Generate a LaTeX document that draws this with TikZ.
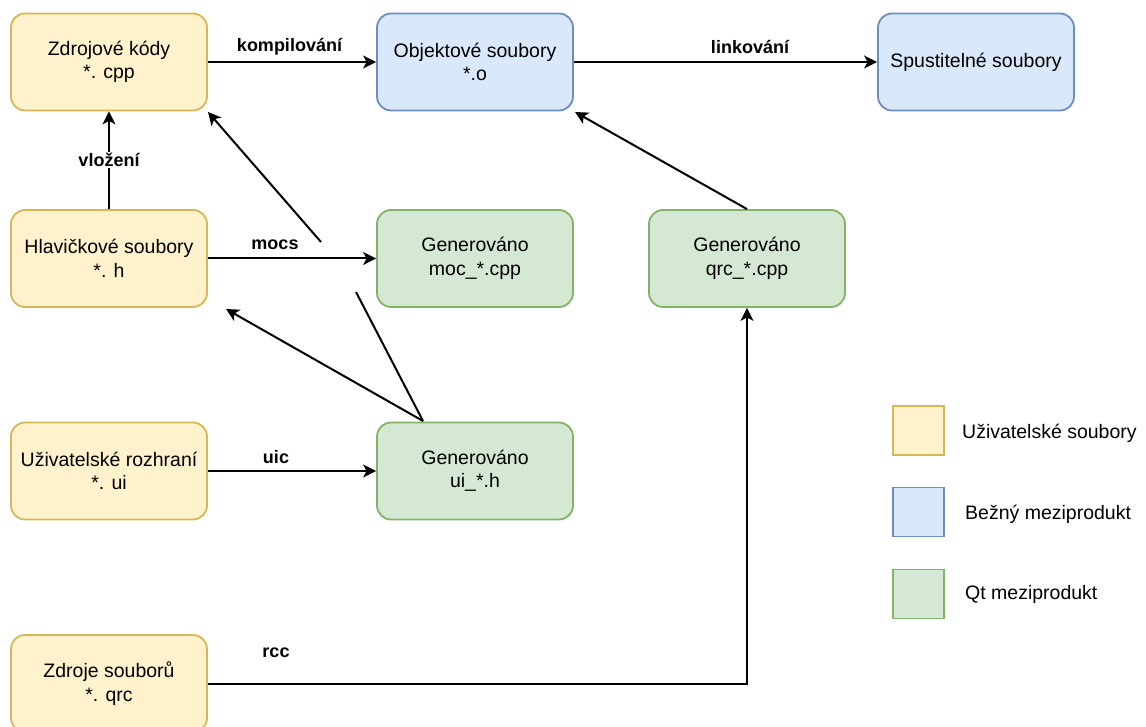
\documentclass[tikz,border=0pt]{standalone}
\usepackage{fontspec}
\setmainfont{Liberation Sans}
\usetikzlibrary{arrows.meta,calc}
\definecolor{usrfill}{HTML}{FFF2CC}
\definecolor{usrline}{HTML}{D6B656}
\definecolor{objfill}{HTML}{DAE8FC}
\definecolor{objline}{HTML}{6C8EBF}
\definecolor{qtfill}{HTML}{D5E8D4}
\definecolor{qtline}{HTML}{82B366}
\tikzset{
  box/.style={rectangle, rounded corners=14pt, line width=1.8pt,
    minimum width=196pt, minimum height=97pt, inner sep=0pt, align=center,
    font=\fontsize{19.5}{23.4}\selectfont},
  usrbox/.style={box, fill=usrfill, draw=usrline},
  objbox/.style={box, fill=objfill, draw=objline},
  qtbox/.style={box, fill=qtfill, draw=qtline},
  keybox/.style={rectangle, line width=1.8pt, minimum width=51pt, minimum height=49pt, inner sep=0pt},
  keytext/.style={anchor=west, inner sep=0pt, font=\fontsize{19.5}{23.4}\selectfont},
  arr/.style={line width=2pt, -{Stealth[length=13pt,width=13pt,inset=3.5pt]}},
  plain/.style={line width=2pt},
  lbl/.style={font=\fontsize{18}{21}\selectfont\bfseries, inner sep=1pt},
}
\begin{document}
\begin{tikzpicture}[x=1pt,y=-1pt]
\useasboundingbox (0,0) rectangle (1146,727);
\clip (0,0) rectangle (1146,727);

% source and build products
\node[usrbox] (src) at (109,62) {Zdrojové kódy\\*. cpp};
\node[objbox] (obj) at (475,62) {Objektové soubory\\*.o};
\node[objbox] (exe) at (976,62) {Spustitelné soubory};
\node[usrbox] (hdr) at (109,258.5) {Hlavičkové soubory\\*. h};
\node[qtbox]  (moc) at (475,258.5) {Generováno\\moc\_*.cpp};
\node[qtbox]  (qrc) at (747,258.5) {Generováno\\qrc\_*.cpp};
\node[usrbox] (ui)  at (109,471) {Uživatelské rozhraní\\*. ui};
\node[qtbox]  (uih) at (475,471) {Generováno\\ui\_*.h};
\node[usrbox] (res) at (109,683.5) {Zdroje souborů\\*. qrc};

% helper points for the slanted connectors
\coordinate (srcTip) at (208,112);
\coordinate (srcTail) at (321,242);
\coordinate (hdrTip) at (226,309);
\coordinate (uihTop) at (423,421);
\coordinate (mocTail) at (356,292);
\coordinate (objTip) at (575,112);

% connectors
\draw[arr] (src) -- (obj);
\node[lbl] at (289.5,47) {kompilování};
\draw[arr] (obj) -- (exe);
\node[lbl] at (750,47) {linkování};
\draw[arr] (hdr) -- node[lbl, fill=white] {vložení} (src);
\draw[arr] (hdr) -- (moc);
\node[lbl] at (275,245) {mocs};
\draw[arr] (srcTail) -- (srcTip);
\draw[plain] (mocTail) -- (uihTop);
\draw[arr] (uihTop) -- (hdrTip);
\draw[arr] (ui) -- (uih);
\node[lbl] at (276,457) {uic};
\draw[arr] (qrc.north) -- (objTip);
\draw[arr] (res.east) -| (qrc.south);
\node[lbl] at (276,653) {rcc};

% legend
\node[keybox, fill=usrfill, draw=usrline] (k1) at (918.5,430.5) {};
\node[keybox, fill=objfill, draw=objline] (k2) at (918.5,512) {};
\node[keybox, fill=qtfill, draw=qtline] (k3) at (918.5,594) {};
\node[keytext] (t1) at (962,433) {Uživatelské soubory};
\node[keytext] (t2) at (965,514) {Bežný meziprodukt};
\node[keytext] (t3) at (965,594) {Qt meziprodukt};
\end{tikzpicture}
\end{document}
